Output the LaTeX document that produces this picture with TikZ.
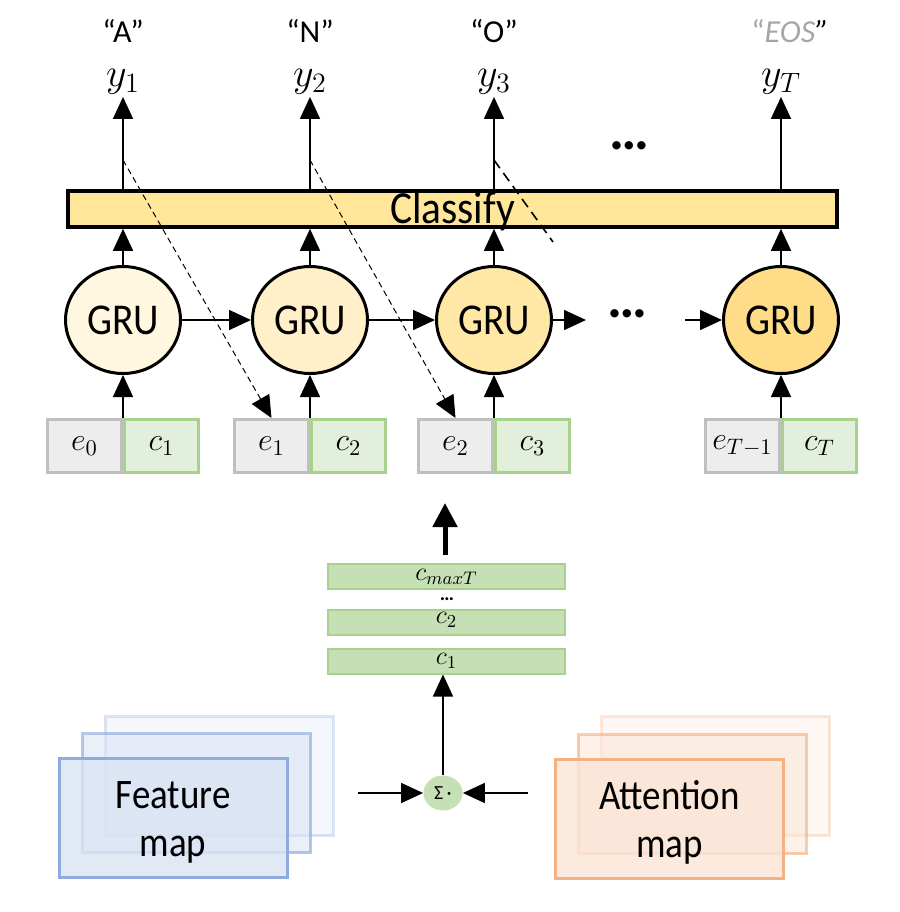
\RequirePackage{fix-cm}
\documentclass[tikz,border=0pt]{standalone}
\usepackage{fontspec}
\setmainfont{Carlito}
\newfontfamily\narrowfont[FakeStretch=0.88]{Carlito}
\newfontfamily\tallfont[FakeStretch=0.9]{Carlito}
\usetikzlibrary{arrows.meta,shapes.geometric}
\definecolor{clsfill}{HTML}{FFE699}
\definecolor{gruA}{HTML}{FFF7E0}
\definecolor{gruB}{HTML}{FFF0CA}
\definecolor{gruC}{HTML}{FFE7A6}
\definecolor{gruD}{HTML}{FFDD88}
\definecolor{efill}{HTML}{EDEDED}
\definecolor{edraw}{HTML}{BFBFBF}
\definecolor{cfill}{HTML}{E2EFDA}
\definecolor{cdraw}{HTML}{A9D18E}
\definecolor{barfill}{HTML}{C5E0B4}
\definecolor{bluedraw}{HTML}{8FAADC}
\definecolor{bluefill}{HTML}{DAE3F3}
\definecolor{orgdraw}{HTML}{F4B183}
\definecolor{orgfill}{HTML}{FBE5D6}
\definecolor{eosgray}{HTML}{A6A6A6}
\begin{document}
\begin{tikzpicture}[x=0.5pt,y=-0.5pt,
  arr/.style={-{Triangle[width=10pt,length=11pt]}, line width=0.8pt},
  thickarr/.style={-{Triangle[width=12pt,length=12pt]}, line width=2.5pt},
  dasharr/.style={-{Triangle[width=10pt,length=11pt]}, line width=0.5pt, dash pattern=on 3pt off 2pt},
  ql/.style={font=\fontsize{16}{18}\selectfont, inner sep=1pt},
  yl/.style={font=\fontsize{20}{22}\selectfont, inner sep=1pt},
  gru/.style={ellipse, draw, line width=1.5pt, minimum width=57.5pt, minimum height=53.5pt, inner sep=0pt, font=\fontsize{22}{22}\selectfont\tallfont},
  ebox/.style={rectangle, draw=edraw, fill=efill, line width=1.5pt, minimum width=37pt, minimum height=26.5pt, inner sep=0pt, font=\fontsize{16}{16}\selectfont},
  cbox/.style={rectangle, draw=cdraw, fill=cfill, line width=1.5pt, minimum width=37pt, minimum height=26.5pt, inner sep=0pt, font=\fontsize{16}{16}\selectfont},
  cbar/.style={rectangle, draw=cdraw, fill=barfill, line width=1pt, minimum width=118.5pt, minimum height=12.5pt, inner sep=0pt, font=\fontsize{13}{13}\selectfont},
  dots/.style={font=\fontsize{28}{28}\selectfont\bfseries, inner sep=0pt},
  mapfront/.style={rectangle, line width=1.5pt, minimum width=114pt, minimum height=59.5pt, inner sep=0pt},
  maptext/.style={align=center, font=\fontsize{21}{24}\selectfont\narrowfont}
]
\useasboundingbox (0,0) rectangle (900,912);

% output labels
\node[ql] (q1) at (123,31) {“A”};
\node[ql] (q2) at (310,31) {“N”};
\node[ql] (q3) at (494,31) {“O”};
\node[ql] (q4) at (790,31) {\textcolor{eosgray}{“\textit{EOS}}\textit{”}};
\node[yl] (y1) at (123,82) {$y_1$};
\node[yl] (y2) at (310,82) {$y_2$};
\node[yl] (y3) at (494,82) {$y_3$};
\node[yl] (yT) at (781,82) {$y_T$};

% classify bar
\node[rectangle, draw, line width=1.8pt, fill=clsfill, minimum width=384.5pt, minimum height=18pt, inner sep=0pt, text height=16pt, text depth=2pt, font=\fontsize{23}{23}\selectfont\tallfont] (cls) at (452.5,209) {Classify};

% GRUs
\node[gru, fill=gruA] (g1) at (123,320) {GRU};
\node[gru, fill=gruB] (g2) at (310,320) {GRU};
\node[gru, fill=gruC] (g3) at (494,320) {GRU};
\node[gru, fill=gruD] (gT) at (781,320) {GRU};

% input boxes
\node[cbox] (c1) at (161.5,446) {$c_1$};
\node[ebox] (e0) at (84.5,446) {$e_0$};
\node[cbox] (c2) at (348.5,446) {$c_2$};
\node[ebox] (e1) at (271.5,446) {$e_1$};
\node[cbox] (c3) at (532.5,446) {$c_3$};
\node[ebox] (e2) at (455.5,446) {$e_2$};
\node[cbox] (cT) at (819.5,446) {$c_T$};
\node[ebox] (eT) at (742.5,446) {$e_{T-1}$};

% arrows classify -> y
\draw[arr] (cls.north -| y1.south) -- (y1.south);
\draw[arr] (cls.north -| y2.south) -- (y2.south);
\draw[arr] (cls.north -| y3.south) -- (y3.south);
\draw[arr] (cls.north -| yT.south) -- (yT.south);
% GRU -> classify
\draw[arr] (g1.north) -- (g1.north |- cls.south);
\draw[arr] (g2.north) -- (g2.north |- cls.south);
\draw[arr] (g3.north) -- (g3.north |- cls.south);
\draw[arr] (gT.north) -- (gT.north |- cls.south);
% boxes -> GRU
\draw[arr] (g1.south |- e0.north) -- (g1.south);
\draw[arr] (g2.south |- e1.north) -- (g2.south);
\draw[arr] (g3.south |- e2.north) -- (g3.south);
\draw[arr] (gT.south |- eT.north) -- (gT.south);
% GRU chain
\draw[arr] (g1.east) -- (g2.west);
\draw[arr] (g2.east) -- (g3.west);
\coordinate (g3out) at (586,320);
\coordinate (gTin) at (685,320);
\draw[arr] (g3.east) -- (g3out);
\draw[arr] (gTin) -- (gT.west);
\node[dots] (dotsA) at (627,314) {…};
\node[dots] (dotsB) at (629,146) {…};

% dashed feedback
\coordinate (d1) at (123,160);
\coordinate (d2) at (310,160);
\coordinate (d3) at (494,160);
\coordinate (d3e) at (553,242);
\draw[dasharr] (d1) -- (e1.north);
\draw[dasharr] (d2) -- (e2.north);
\draw[line width=0.8pt, dash pattern=on 5pt off 3pt] (d3) -- (d3e);

% context stack
\node[cbar, text height=8.5pt, text depth=4pt] (cmax) at (446.5,576) {$c_{maxT}$};
\node[cbar, text height=7pt, text depth=5.5pt] (cb2) at (446.5,622) {$c_2$};
\node[cbar] (cb1) at (446.5,661) {$c_1$};
\node[font=\fontsize{10}{10}\selectfont\bfseries, inner sep=0pt, text height=2pt, text depth=0pt] (dotsC) at (447,598) {…};
\coordinate (tb) at (445,555);
\coordinate (tt) at (445,503);
\draw[thickarr] (tb) -- (tt);

% sum node
\node[ellipse, fill=barfill, minimum width=19.5pt, minimum height=17.5pt, inner sep=0pt, font=\fontsize{10}{10}\selectfont] (sum) at (443,793) {Σ\,·};
\draw[arr] (sum.north) -- (sum.north |- cb1.south);
\coordinate (sl) at (358,793);
\coordinate (sr) at (528,793);
\draw[arr] (sl) -- (sum.west);
\draw[arr] (sr) -- (sum.east);

% feature maps
\node[mapfront, draw=bluedraw, draw opacity=0.3, fill=bluefill, fill opacity=0.3] (fm3) at (219,776) {};
\node[mapfront, draw=bluedraw, draw opacity=0.65, fill=bluefill, fill opacity=0.55] (fm2) at (196.5,793) {};
\node[mapfront, draw=bluedraw, fill=bluefill, fill opacity=0.8] (fm1) at (173,818) {};
\node[maptext] (fmt) at (173,822) {Feature\\map};

% attention maps
\node[mapfront, draw=orgdraw, draw opacity=0.3, fill=orgfill, fill opacity=0.3] (am3) at (715.5,776) {};
\node[mapfront, draw=orgdraw, draw opacity=0.65, fill=orgfill, fill opacity=0.55] (am2) at (692,794) {};
\node[mapfront, draw=orgdraw, fill=orgfill, fill opacity=0.8] (am1) at (669.5,818.5) {};
\node[maptext] (amt) at (669.5,822) {Attention\\map};
\end{tikzpicture}
\end{document}
